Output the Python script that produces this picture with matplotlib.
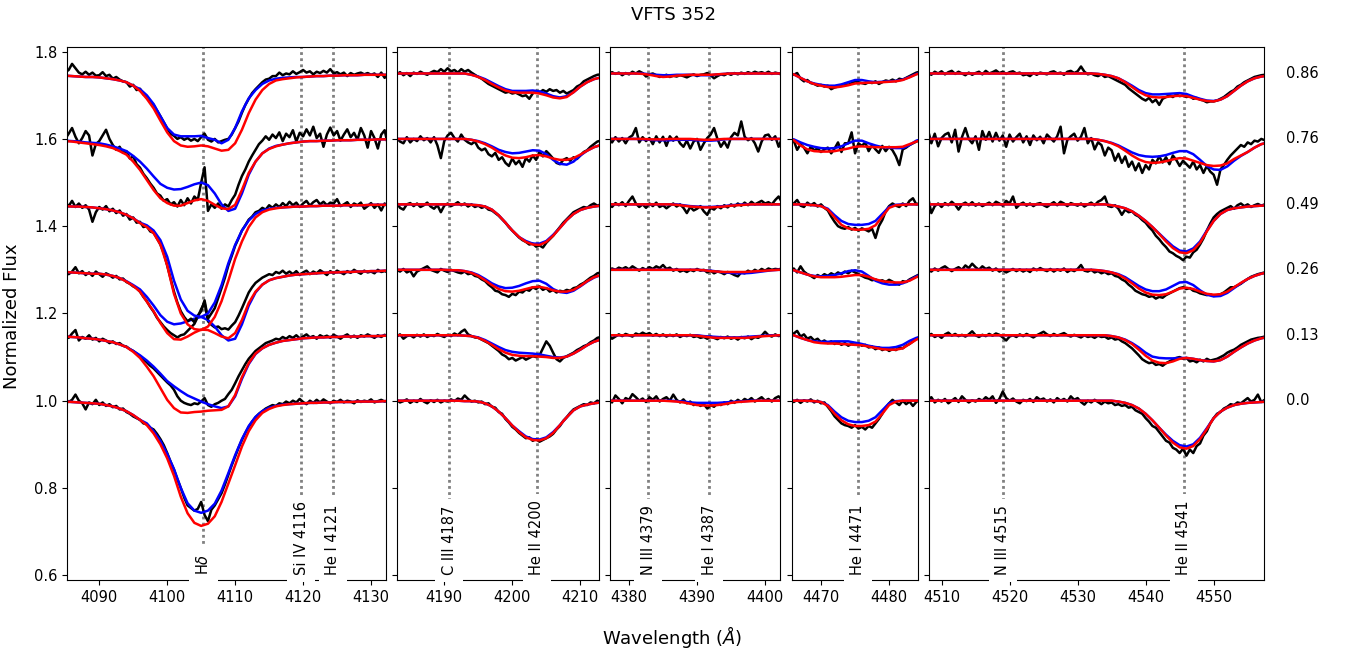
import numpy as np
import matplotlib
matplotlib.use('Agg')
import matplotlib.pyplot as plt
import matplotlib.transforms as mtransforms

# phases (bottom to top) and the vertical shift used for each spectrum
phase_labels = ['0.0', '0.13', '0.26', '0.49', '0.76', '0.86']
phase_shift = [0.0, 0.15, 0.30, 0.45, 0.60, 0.75]

# all flux values below are (normalized flux - 1) * 1000, one row per phase
# ---------------- panel 1 : H delta ----------------
hd_wave = np.arange(4085, 4134, 1.0)
hd_obs_wave = np.arange(4085, 4133.5, 0.5)
hd_red = [
    [-2, -3, -4, -5, -6, -7, -10, -13, -18, -24, -33, -44, -56, -75, -100, -132, -172, -220, -258, -280,
     -287, -282, -265, -232, -190, -148, -105, -70, -45, -28, -19, -13, -10, -8, -7, -6, -5, -5, -4, -4,
     -3, -3, -3, -2, -2, -2, -2, -1, -1],
    [-3, -4, -5, -7, -8, -10, -13, -16, -21, -27, -38, -52, -72, -94, -121, -148, -167, -177, -178, -176,
     -175, -173, -172, -171, -163, -137, -96, -64, -42, -30, -22, -17, -13, -11, -9, -7, -6, -5, -5, -4,
     -4, -3, -3, -3, -2, -2, -2, -1, -1],
    [-5, -6, -7, -8, -9, -9, -11, -14, -19, -27, -37, -50, -73, -95, -122, -145, -159, -160, -153, -144,
     -137, -138, -145, -153, -157, -145, -115, -76, -50, -34, -24, -19, -16, -13, -11, -10, -9, -8, -7, -6,
     -6, -5, -5, -4, -4, -3, -3, -2, -2],
    [-4, -5, -5, -6, -7, -9, -11, -14, -18, -24, -32, -43, -52, -66, -92, -140, -205, -250, -275, -286,
     -288, -280, -258, -222, -175, -125, -85, -52, -30, -18, -12, -9, -7, -6, -5, -5, -4, -4, -3, -3,
     -3, -2, -2, -2, -2, -1, -1, -1, -1],
    [-5, -6, -8, -10, -12, -14, -17, -21, -28, -36, -52, -71, -94, -117, -136, -147, -153, -153, -147, -141,
     -138, -142, -151, -159, -161, -151, -117, -78, -52, -33, -23, -17, -13, -10, -8, -6, -5, -5, -4, -4,
     -3, -3, -3, -2, -2, -2, -1, -1, -1],
    [-5, -6, -7, -8, -8, -9, -11, -13, -16, -20, -28, -40, -58, -80, -108, -135, -155, -165, -168, -167,
     -165, -167, -172, -177, -175, -160, -129, -91, -60, -38, -24, -16, -13, -11, -9, -8, -7, -6, -6, -5,
     -5, -4, -4, -4, -3, -3, -3, -3, -3],
]
hd_blue = [
    [-2, -3, -4, -5, -6, -7, -10, -13, -18, -24, -33, -44, -52, -70, -92, -122, -157, -200, -235, -252,
     -257, -252, -236, -206, -166, -125, -88, -58, -37, -24, -16, -12, -9, -8, -7, -6, -5, -5, -4, -4,
     -3, -3, -3, -2, -2, -2, -2, -1, -1],
    [-3, -4, -5, -7, -8, -10, -13, -16, -21, -27, -36, -46, -58, -72, -88, -105, -117, -128, -138, -145,
     -152, -158, -163, -167, -163, -140, -100, -66, -43, -30, -22, -17, -13, -11, -9, -7, -6, -5, -5, -4,
     -4, -3, -3, -3, -2, -2, -2, -1, -1],
    [-5, -6, -7, -8, -9, -9, -11, -14, -19, -26, -35, -45, -62, -82, -104, -119, -125, -123, -118, -112,
     -108, -115, -130, -150, -162, -158, -125, -82, -52, -34, -24, -19, -16, -13, -11, -10, -9, -8, -7, -6,
     -6, -5, -5, -4, -4, -3, -3, -2, -2],
    [-4, -5, -5, -6, -7, -9, -11, -14, -18, -24, -32, -42, -48, -60, -82, -120, -175, -218, -244, -255,
     -258, -250, -225, -185, -135, -93, -60, -37, -22, -14, -10, -8, -7, -6, -5, -5, -4, -4, -3, -3,
     -3, -2, -2, -2, -2, -1, -1, -1, -1],
    [-4, -5, -6, -8, -9, -10, -13, -17, -22, -28, -39, -52, -68, -86, -103, -112, -116, -115, -110, -104,
     -100, -106, -125, -150, -165, -160, -125, -82, -52, -33, -22, -16, -13, -10, -8, -6, -5, -5, -4, -4,
     -3, -3, -3, -2, -2, -2, -1, -1, -1],
    [-5, -6, -7, -8, -8, -9, -11, -13, -16, -20, -28, -36, -50, -70, -98, -125, -140, -144, -144, -144,
     -143, -148, -152, -160, -152, -125, -87, -57, -38, -24, -16, -12, -10, -9, -8, -8, -7, -6, -6, -5,
     -5, -4, -4, -4, -3, -3, -3, -3, -3],
]
hd_obs = [
    [4, -3, 2, 14, 0, -6, -20, -4, -8, 2, -10, -4, -12, -8, -15, -12, -20, -18, -26, -30,
     -36, -40, -44, -52, -54, -62, -66, -76, -88, -102, -120, -140, -158, -180, -200, -222, -240, -246, -252, -248,
     -232, -262, -276, -250, -240, -226, -212, -192, -170, -148, -128, -108, -90, -74, -60, -48, -38, -30, -24, -18,
     -14, -10, -12, -6, -8, -2, -6, 0, -4, 4, -3, -8, 0, -5, 2, -4, 3, -2, -6, 0,
     -3, 2, -4, 0, -2, -6, 1, -3, 0, -2, 3, -4, -1, 2, -2, 0, -1],
    [2, -6, 4, 12, -12, -4, -8, 0, -10, -6, -14, -8, -12, -18, -14, -20, -18, -24, -26, -32,
     -36, -42, -48, -55, -62, -70, -76, -84, -92, -100, -108, -115, -125, -140, -150, -155, -158, -160, -156, -158,
     -152, -144, -160, -164, -158, -155, -150, -146, -135, -125, -110, -94, -80, -66, -54, -45, -36, -30, -24, -18,
     -15, -12, -8, -10, -4, -8, -2, -6, 0, -7, -3, 2, -5, -2, -8, 0, -4, -1, -6, 1,
     -3, -8, -2, 2, -5, -1, -6, 0, -3, 2, -2, -6, 0, -4, 1, -3, 0],
    [-2, -10, -4, 6, -8, -3, -12, -6, -14, -4, -10, -16, -8, -12, -18, -14, -22, -20, -28, -32,
     -38, -42, -50, -62, -72, -85, -96, -110, -120, -130, -138, -145, -150, -155, -150, -148, -140, -132, -124, -108,
     -90, -75, -118, -126, -132, -130, -136, -134, -137, -128, -120, -105, -88, -70, -52, -40, -30, -24, -18, -14,
     -10, -12, -5, -8, -2, -9, -4, -10, -3, -12, -6, -2, -10, -4, -8, -1, -6, -12, -3, -8,
     -2, -6, -10, -3, -7, 0, -5, -9, -2, -6, -4, -8, 0, -5, -3, -6, -2],
    [5, -4, 8, -6, 2, -8, -2, -12, -40, -18, -6, -12, -4, -16, -10, -20, -14, -26, -22, -35,
     -30, -42, -40, -52, -50, -62, -65, -78, -92, -112, -140, -170, -200, -225, -245, -258, -268, -262, -270, -255,
     -245, -220, -262, -250, -238, -215, -192, -168, -140, -118, -95, -78, -60, -48, -35, -28, -18, -15, -8, -12,
     -2, -8, 0, -6, 3, -4, 6, -2, 4, -6, 2, 8, -3, 5, 10, 0, 6, -2, 4, 2,
     12, -4, 0, 5, -6, 2, -2, 4, -10, -4, 3, -8, 0, -14, 2, -5, 0],
    [0, 12, 25, 5, -10, 2, 18, 8, -38, -12, -5, 8, 21, 0, -14, -25, -18, -32, -28, -45,
     -40, -58, -66, -80, -90, -102, -112, -125, -130, -142, -138, -150, -145, -155, -140, -152, -136, -148, -132, -140,
     -100, -65, -165, -150, -158, -148, -160, -150, -155, -140, -128, -105, -85, -70, -52, -38, -25, -12, -4, 6,
     -2, 10, 2, 15, -5, 12, 4, 20, -6, 14, 6, 22, 8, 28, 2, 12, -18, 10, 26, 8,
     18, -4, 10, 22, 4, 14, -2, 25, 8, -20, 18, 2, -22, 10, 20, -15, 5],
    [3, 8, 22, 12, 2, -2, 4, -3, 2, -5, -4, 3, -6, -3, -12, -8, -14, -18, -20, -30,
     -26, -38, -35, -48, -52, -64, -72, -85, -98, -112, -126, -138, -143, -150, -146, -152, -148, -154, -150, -155,
     -146, -138, -152, -156, -150, -158, -155, -152, -150, -140, -125, -110, -90, -72, -58, -45, -36, -28, -20, -14,
     -12, -6, -6, 2, -4, 0, -2, 5, -1, 3, 8, 2, 5, -2, 4, 1, 6, 2, 10, 0,
     3, -2, 2, -6, 1, -3, 0, 2, -2, 1, -3, 0, -8, 2, -10, 0, -3],
]

# ---------------- panel 2 : He II 4200 ----------------
he2_wave = np.arange(4183, 4214, 1.0)
he2_obs_wave = np.arange(4183, 4213.5, 0.5)
he2_red = [
    [0, 0, 0, 0, 0, 0, 0, 0, 0, 0, -1, -1, -2, -6, -13, -25, -40, -57, -72, -84,
     -90, -91, -86, -74, -56, -38, -22, -13, -9, -6, -4],
    [0, 0, 0, 0, 0, 0, 0, 0, 0, 0, -1, -2, -6, -13, -22, -32, -40, -45, -47, -48,
     -48, -49, -50, -52, -52, -49, -42, -33, -23, -15, -10],
    [0, 0, 0, 0, 0, 0, 0, 0, -1, -1, -3, -7, -14, -24, -35, -44, -49, -50, -48, -44,
     -40, -39, -42, -47, -50, -50, -46, -37, -26, -17, -12],
    [0, 0, 0, 0, 0, 0, 0, 0, 0, 0, 0, -1, -2, -5, -12, -25, -42, -60, -75, -86,
     -92, -93, -86, -72, -54, -36, -22, -13, -8, -5, -3],
    [0, 0, 0, 0, 0, 0, 0, 0, 0, 0, 0, -2, -6, -12, -20, -30, -38, -43, -44, -42,
     -38, -37, -40, -45, -48, -48, -44, -36, -27, -19, -14],
    [0, 0, 0, 0, 0, 0, 0, 0, 0, 0, 0, -3, -8, -15, -24, -32, -39, -43, -44, -44,
     -44, -46, -50, -55, -57, -54, -43, -30, -20, -13, -9],
]
he2_blue = [
    [0, 0, 0, 0, 0, 0, 0, 0, 0, 0, -1, -1, -2, -6, -13, -25, -40, -57, -70, -82,
     -88, -89, -84, -72, -56, -38, -22, -13, -9, -6, -4],
    [0, 0, 0, 0, 0, 0, 0, 0, 0, 0, -1, -2, -5, -11, -19, -27, -34, -38, -40, -41,
     -42, -44, -47, -50, -51, -49, -42, -33, -23, -15, -10],
    [0, 0, 0, 0, 0, 0, 0, 0, -1, -1, -3, -6, -12, -21, -31, -38, -42, -41, -37, -31,
     -26, -25, -32, -44, -51, -53, -48, -38, -27, -18, -12],
    [0, 0, 0, 0, 0, 0, 0, 0, 0, 0, 0, -1, -2, -5, -12, -25, -42, -60, -75, -84,
     -90, -90, -84, -70, -54, -36, -22, -13, -8, -5, -3],
    [0, 0, 0, 0, 0, 0, 0, 0, 0, 0, 0, -2, -5, -10, -17, -25, -30, -33, -32, -29,
     -26, -27, -35, -48, -57, -59, -52, -38, -27, -19, -14],
    [0, 0, 0, 0, 0, 0, 0, 0, 0, 0, 0, -3, -7, -13, -21, -29, -36, -40, -40, -40,
     -39, -41, -46, -52, -55, -52, -43, -30, -20, -13, -9],
]
he2_obs = [
    [2, -4, -1, 3, -5, 0, -3, 4, -2, -6, 1, -3, 2, -4, 0, -2, 3, -1, 5, 2,
     12, 4, -2, 0, -4, -2, -8, -6, -14, -16, -26, -30, -42, -50, -60, -66, -74, -80, -86, -84,
     -92, -88, -94, -90, -86, -82, -76, -66, -58, -46, -38, -28, -20, -16, -12, -8, -10, -4, -6, 0, -3],
    [-3, 2, -8, -2, 0, -5, 1, -3, 2, -4, 0, -2, 3, -1, -4, 1, -2, 4, 0, 8,
     13, 2, -2, -5, -6, -10, -14, -18, -24, -30, -36, -44, -48, -55, -52, -58, -54, -50, -56, -52,
     -48, -50, -46, -30, -14, -24, -40, -55, -60, -52, -48, -44, -40, -34, -30, -25, -22, -16, -12, -6, -4],
    [0, -4, 2, -6, -2, -15, -4, 0, 4, 8, 0, -3, -6, 2, -2, -5, 0, -3, -6, -8,
     -4, -10, -8, -14, -16, -22, -26, -34, -40, -48, -50, -56, -58, -62, -55, -58, -50, -52, -45, -48,
     -40, -44, -38, -46, -42, -50, -46, -52, -48, -50, -46, -48, -42, -40, -34, -30, -24, -18, -14, -8, -6],
    [4, -8, -12, 0, 3, -4, 2, -6, -2, 4, -5, -10, -2, -18, -3, 2, -4, 0, 5, -2,
     2, -5, 0, -6, -3, -8, -5, -12, -14, -20, -26, -34, -42, -52, -60, -68, -76, -82, -86, -92,
     -90, -97, -94, -99, -88, -80, -72, -62, -52, -42, -34, -26, -18, -14, -10, -6, -8, -2, 2, -3, 0],
    [2, -6, -10, 4, -8, 0, -5, 6, -3, 2, -8, 4, -15, -44, -5, 8, 14, 2, -6, 10,
     -2, -8, -12, -6, -20, -26, -22, -35, -40, -32, -48, -42, -55, -62, -45, -58, -50, -64, -44, -52,
     -38, -48, -30, -40, -28, -36, -45, -55, -58, -48, -44, -50, -42, -46, -38, -30, -26, -18, -12, -6, -4],
    [-2, 3, -4, 1, -6, 2, -1, 4, 0, -3, 2, 6, 3, 10, 4, 12, 5, 8, 2, 10,
     4, 8, 2, -3, -8, -12, -18, -24, -28, -32, -36, -40, -44, -42, -46, -44, -48, -52, -50, -58,
     -46, -40, -44, -38, -42, -36, -40, -38, -44, -40, -46, -42, -38, -30, -26, -18, -14, -10, -6, -3, -2],
]

# ---------------- panel 3 : N III 4379 / He I 4387 ----------------
n3_wave = np.arange(4377, 4404, 1.0)
n3_obs_wave = np.arange(4377, 4403.5, 0.5)
n3_red = [
    [0, 0, 0, 0, 0, 0, 0, 0, 0, -1, -2, -4, -7, -10, -11, -11, -10, -8, -5, -3, -2, -1, 0, 0, 0, 0, 0],
    [0, 0, 0, 0, 0, 0, 0, 0, 0, 0, 0, 0, 0, -1, -3, -5, -6, -6, -6, -6, -6, -5, -3, -2, -1, 0, 0],
    [0, 0, 0, 0, 0, 0, 0, 0, 0, 0, 0, 0, 0, 0, -1, -3, -4, -5, -5, -5, -5, -4, -3, -2, -1, 0, 0],
    [0, 0, 0, 0, 0, 0, 0, 0, 0, 0, -1, -3, -5, -6, -7, -7, -6, -5, -3, -2, -1, 0, 0, 0, 0, 0, 0],
    [0, 0, 0, 0, 0, 0, -1, -1, -1, 0, 0, 0, 0, -1, -2, -2, -1, 0, 0, 0, 0, 0, 0, 0, 0, 0, 0],
    [0, 0, 0, 0, 0, -1, -3, -6, -8, -7, -5, -4, -3, -3, -3, -3, -2, -1, 0, 0, 0, 0, 0, 0, 0, 0, 0],
]
n3_blue = [
    [0, 0, 0, 0, 0, 0, 0, 0, 0, 0, -1, -2, -4, -5, -5, -5, -5, -4, -3, -2, -1, 0, 0, 0, 0, 0, 0],
    [0, 0, 0, 0, 0, 0, 0, 0, 0, 0, 0, 0, 0, 0, -2, -3, -4, -5, -5, -5, -4, -3, -2, -1, 0, 0, 0],
    [0, 0, 0, 0, 0, 0, 0, 0, 0, 0, 0, 0, 0, 0, -1, -2, -4, -6, -7, -8, -8, -7, -5, -3, -1, 0, 0],
    [0, 0, 0, 0, 0, 0, 0, 0, 0, 0, 0, -2, -4, -5, -6, -6, -5, -4, -2, -1, 0, 0, 0, 0, 0, 0, 0],
    [0, 0, 0, 0, 0, -1, -2, -3, -3, -3, -2, -2, -2, -3, -4, -4, -3, -1, 0, 0, 0, 0, 0, 0, 0, 0, 0],
    [0, 0, 0, 0, 0, 0, -2, -3, -4, -4, -3, -3, -3, -4, -4, -4, -2, -1, 0, 0, 0, 0, 0, 0, 0, 0, 0],
]
n3_obs = [
    [2, -4, 12, 4, -6, 6, 2, 15, 8, 0, 5, -3, 8, 2, 10, -2, 4, 8, 0, 14,
     2, -4, 3, -6, -2, -10, -6, -12, -8, -18, -10, -14, -6, -10, -4, -8, 0, -5, 2, -3,
     4, 0, 6, -2, 3, 8, 0, 4, -2, 6, 10, 2, 5],
    [0, -8, -3, 2, -2, 3, 0, -3, 4, 1, 6, 2, 5, -1, 3, -2, 2, -3, 1, -2,
     2, -4, 0, -2, 1, -4, -2, -6, -4, -8, -3, -6, -9, -4, -7, -3, -8, -5, -10, -4,
     -7, -3, -9, -4, -6, -1, 8, 0, -3, 2, -2, 1, 0],
    [-2, 3, 0, 5, 2, 6, 1, 8, 3, -2, 4, 0, 6, 2, 8, 4, 11, 2, 5, -2,
     2, -4, -1, -5, 0, -3, 2, -2, 0, -6, -2, -8, -4, -6, -10, -5, -8, -12, -15, -6,
     -8, -2, -6, 0, -4, 2, -2, 3, 0, 2, 1, 3, 2],
    [2, -6, 3, -2, 5, -4, 8, 18, 2, -6, 0, -8, 2, -4, 4, -6, -2, -9, -3, 2,
     -5, 0, -8, -20, -6, -14, -10, -4, -16, -24, -8, -12, -4, -9, -2, -7, 0, -5, 2, -3,
     4, -2, 6, 0, 4, 8, 2, 5, 0, 10, 18, 4, 2],
    [0, -8, 4, -6, 2, -10, 3, 8, 25, -8, 4, -5, 2, -12, 6, -8, 5, -16, 6, -4,
     5, -10, -18, -4, -22, -6, 0, -25, -10, 2, 10, 25, 0, -18, -6, -20, 4, 14, 8, 40,
     5, -3, 2, -10, -29, -6, 8, 10, -2, 6, -18, 2, 0],
    [-2, 3, -1, 2, -4, 1, -2, 4, 0, 5, 1, -7, -2, 0, -4, -8, -6, -3, -8, -5,
     -7, -4, -6, -9, -5, -2, -6, -3, -2, 1, -4, -11, -6, -2, -4, 0, -3, 1, -2, 2,
     -1, 3, 0, 4, 1, 3, 0, 4, -1, 2, 0, -3, 1],
]

# ---------------- panel 4 : He I 4471 ----------------
he1_wave = np.arange(4465, 4486, 1.0)
he1_obs_wave = np.arange(4465, 4485.5, 0.5)
he1_red = [
    [0, 0, 0, 0, -1, -3, -12, -30, -45, -54, -58, -58, -56, -48, -30, -10, -2, 0, 0, 0, 0],
    [0, 0, -6, -11, -16, -18, -19, -19, -20, -21, -22, -23, -26, -29, -32, -33, -33, -30, -20, -10, -4],
    [0, -1, -6, -11, -15, -17, -17, -17, -16, -14, -12, -12, -16, -22, -26, -28, -29, -29, -25, -17, -10],
    [0, 0, 0, -1, -2, -4, -12, -30, -47, -55, -58, -58, -56, -48, -28, -8, -2, -1, 0, 0, 0],
    [0, -3, -15, -24, -28, -29, -29, -28, -25, -22, -18, -17, -18, -19, -19, -19, -19, -18, -12, -6, -2],
    [0, -2, -10, -18, -24, -28, -31, -32, -30, -27, -23, -22, -21, -21, -20, -19, -18, -15, -9, -2, 2],
]
he1_blue = [
    [0, 0, 0, 0, -1, -3, -10, -25, -38, -46, -49, -49, -46, -38, -22, -6, -1, 0, 0, 0, 0],
    [0, 0, -6, -11, -14, -15, -15, -14, -14, -14, -17, -20, -24, -27, -29, -29, -27, -22, -13, -6, -2],
    [0, -1, -6, -11, -14, -15, -14, -12, -8, -3, -1, -4, -14, -25, -31, -34, -34, -31, -24, -15, -8],
    [0, 0, 0, -1, -2, -4, -10, -25, -38, -45, -47, -47, -45, -38, -22, -6, -1, 0, 0, 0, 0],
    [0, -1, -8, -14, -18, -21, -22, -21, -17, -10, -4, -4, -10, -15, -19, -20, -21, -21, -14, -4, 0],
    [0, -2, -10, -18, -23, -26, -28, -28, -25, -20, -15, -15, -18, -20, -19, -18, -17, -14, -8, -1, 3],
]
he1_obs = [
    [0, 4, -3, 2, -5, 1, -2, 3, -4, 0, -6, -4, -14, -24, -36, -44, -52, -56, -58, -62,
     -56, -64, -60, -66, -58, -62, -52, -42, -30, -16, -6, 2, -4, -10, 0, -8, -2, -12, -3, 2, -2],
    [2, -2, 4, 10, -3, 2, -8, -4, -12, -8, -16, -12, -18, -14, -20, -16, -22, -18, -24, -20,
     -22, -18, -24, -22, -28, -26, -32, -28, -34, -30, -36, -32, -34, -28, -30, -24, -20, -14, -8, -4, -2],
    [2, -2, 3, -6, 8, -4, -10, -14, -19, -12, -16, -10, -14, -8, -12, -6, -10, -4, -8, -2,
     -6, -10, -14, -18, -20, -24, -22, -26, -24, -28, -23, -27, -32, -34, -26, -28, -22, -18, -14, -10, -8],
    [0, -4, 2, 10, -3, -6, 4, -2, 3, -5, 0, -8, -14, -28, -40, -50, -54, -56, -52, -58,
     -54, -60, -55, -58, -62, -56, -77, -50, -36, -16, -4, 2, -3, -6, 2, -4, 8, 14, 0, 3, 1],
    [2, -6, -4, -25, -12, -20, -33, -18, -26, -22, -30, -24, -20, -33, -22, -8, -30, -10, -10, 15,
     -33, -10, -16, -8, -28, -14, -24, -32, -16, -28, -18, -26, -40, -60, -24, -20, -14, -10, -6, -2, 0],
    [0, 2, -3, 1, -12, -18, -15, -22, -24, -28, -26, -30, -28, -36, -32, -30, -28, -24, -26, -22,
     -18, -20, -22, -24, -20, -22, -18, -24, -20, -16, -18, -14, -18, -12, -14, -10, -6, -2, 2, 4, 3],
]

# ---------------- panel 5 : N III 4515 / He II 4541 ----------------
he2b_wave = np.arange(4508, 4559, 1.0)
he2b_obs_wave = np.arange(4508, 4558.5, 0.5)
he2b_red = [
    [0] * 28 + [-2, -5, -10, -18, -30, -45, -62, -80, -96, -107, -110, -104,
                -88, -65, -40, -25, -16, -10, -7, -5, -4, -3, -2],
    [0] * 27 + [-2, -5, -11, -20, -33, -47, -58, -63, -64, -60, -54, -52, -54,
                -57, -59, -60, -57, -49, -38, -28, -19, -12, -7, -4],
    [0] * 25 + [-1, -3, -6, -11, -20, -31, -43, -52, -57, -58, -56, -50, -43, -41, -44,
                -50, -55, -57, -56, -50, -40, -30, -21, -14, -9, -6],
    [0] * 27 + [-2, -5, -9, -16, -26, -38, -52, -68, -85, -100, -110, -112, -105,
                -88, -62, -38, -22, -13, -9, -7, -5, -4, -3, -2],
    [0] * 25 + [-2, -5, -10, -17, -27, -38, -47, -53, -55, -54, -51, -47, -44, -45, -50,
                -55, -60, -62, -61, -56, -46, -38, -30, -20, -12, -8],
    [0] * 25 + [-1, -3, -6, -11, -20, -31, -42, -50, -54, -55, -54, -52, -51, -52, -56,
                -60, -63, -64, -60, -52, -40, -28, -18, -11, -7, -5],
]
he2b_blue = [
    [0] * 28 + [-2, -5, -10, -18, -30, -45, -62, -78, -92, -102, -105, -100,
                -85, -63, -40, -25, -16, -10, -7, -5, -4, -3, -2],
    [0] * 27 + [-2, -5, -10, -18, -28, -40, -49, -52, -53, -53, -52, -52, -54,
                -57, -59, -60, -57, -49, -38, -28, -19, -12, -7, -4],
    [0] * 25 + [-1, -3, -6, -10, -17, -27, -37, -45, -49, -49, -45, -37, -29, -28, -35,
                -47, -57, -61, -60, -53, -42, -31, -21, -14, -9, -6],
    [0] * 27 + [-2, -5, -9, -16, -26, -38, -52, -67, -82, -96, -106, -108, -101,
                -85, -60, -38, -22, -13, -9, -7, -5, -4, -3, -2],
    [0] * 25 + [-2, -5, -9, -15, -23, -31, -37, -40, -41, -40, -37, -32, -28, -28, -35,
                -48, -62, -70, -71, -63, -50, -39, -30, -20, -12, -8],
    [0] * 25 + [-1, -3, -6, -11, -19, -28, -38, -45, -48, -48, -47, -46, -45, -47, -53,
                -58, -62, -63, -60, -52, -40, -28, -18, -11, -7, -5],
]
he2b_obs = [
    [2, 8, -4, 2, -2, 4, -6, 0, 6, -3, 10, 2, -4, 1, -2, 4, 0, 8, 2, 10,
     -5, 4, 21, 6, 0, 5, -2, -6, 2, -1, 4, -3, 8, 2, 5, -2, 3, -4, 6, 0,
     4, -2, 10, 2, 6, -3, -9, 0, -4, 2, -3, -8, -2, -6, -4, -10, -8, -12, -10, -16,
     -14, -22, -26, -30, -40, -48, -58, -62, -72, -82, -92, -96, -108, -112, -120, -110, -126, -112, -120, -104,
     -98, -80, -70, -52, -40, -30, -26, -18, -14, -8, -10, -4, -6, 0, 6, -2, 2, 14, -3, 2, -1],
    [-2, 3, -4, 0, -6, 2, 6, -1, 3, -2, 1, -3, 2, 9, 0, -4, 1, -2, 3, -1,
     4, 1, -5, -12, -3, 0, -4, 2, -2, 3, -1, -5, 0, 4, 8, 2, -2, 3, -1, 2,
     5, 0, -3, 1, -2, -5, 0, -4, -2, -6, -1, -4, -3, -8, -5, -10, -8, -14, -18, -24,
     -30, -38, -46, -55, -60, -64, -62, -68, -66, -70, -64, -60, -56, -52, -50, -54, -52, -60, -58, -62,
     -56, -60, -54, -58, -56, -54, -50, -46, -40, -36, -33, -28, -22, -18, -14, -10, -8, -6, -5, -3, -2],
    [0, -4, 3, -2, 4, 8, 2, -3, 2, 6, 0, 10, 4, 14, 6, 0, 8, 2, 5, -2,
     3, -4, 0, -6, -2, 2, -3, 1, -4, 0, -5, 3, -1, 4, 0, -3, 2, -4, 1, -2,
     3, -5, 0, -3, 2, 11, -2, -4, 0, -6, -3, -8, -5, -10, -8, -14, -16, -22, -26, -34,
     -40, -48, -52, -56, -58, -62, -60, -66, -62, -64, -58, -54, -50, -46, -42, -40, -44, -42, -48, -50,
     -54, -56, -58, -56, -60, -58, -56, -52, -46, -40, -40, -36, -32, -26, -21, -16, -13, -10, -8, -6, -5],
    [18, -20, -4, 2, -6, 3, -2, 6, -1, -12, 0, 4, -2, 5, -3, 2, -4, 0, 4, -2,
     6, 2, -3, 8, 2, 18, -8, 0, 4, -3, 2, -4, 1, 3, -2, -6, 0, 5, -2, 6,
     2, -4, 3, 0, -3, 2, -5, 0, 4, -2, 6, 10, 18, -4, -6, -2, -10, -24, -12, -18,
     -16, -24, -28, -36, -42, -52, -60, -72, -80, -90, -98, -108, -112, -118, -122, -128, -120, -122, -110, -104,
     -92, -78, -60, -44, -30, -22, -16, -12, -8, -4, -10, -2, 2, -4, 0, -6, -2, 1, -3, 0, -2],
    [21, -10, 12, -17, 2, 10, 14, -8, 21, -29, 4, 25, 0, -10, 6, -25, 18, -2, 16, -6,
     14, -4, 8, -18, 10, -6, 4, 12, -8, 6, -14, 8, -3, 5, -10, 10, 2, -6, 6, 28,
     -33, -2, 6, 12, -4, 5, 25, -10, 2, -24, -8, -14, -38, -20, -26, -50, -34, -55, -40, -64,
     -52, -72, -56, -78, -60, -70, -48, -56, -40, -54, -42, -58, -38, -48, -62, -50, -58, -66, -52, -70,
     -60, -78, -62, -75, -82, -105, -70, -60, -48, -38, -30, -22, -14, -18, -8, -12, -4, -6, 0, -3, 2],
    [2, -3, 4, 0, 5, -2, 3, 6, -1, 4, 0, -4, 2, -3, 1, 4, -2, 6, 0, 3,
     7, 1, 4, -1, 3, 5, 0, 2, -4, -2, -6, 1, -3, 2, 0, -2, 3, 5, 0, 2,
     -3, 4, 6, 1, 5, 16, 4, -2, 0, -4, -6, -2, -8, -6, -10, -14, -18, -22, -26, -34,
     -40, -46, -52, -58, -62, -56, -66, -60, -72, -58, -54, -50, -54, -48, -52, -50, -54, -52, -58, -56,
     -60, -62, -66, -64, -64, -62, -58, -54, -48, -42, -38, -30, -26, -20, -16, -12, -8, -6, -4, -3, -2],
]

# line identifications (observed positions) per panel
line_pos = [[4105.3, 4119.7, 4124.4], [4190.7, 4203.6], [4382.8, 4391.8], [4475.4], [4519.0, 4545.6]]
line_names = [[r'H$\delta$', 'Si IV 4116', 'He I 4121'], ['C III 4187', 'He II 4200'],
              ['N III 4379', 'He I 4387'], ['He I 4471'], ['N III 4515', 'He II 4541']]

panels = [
    (hd_wave, hd_obs_wave, hd_obs, hd_blue, hd_red, (4085.3, 4132.2), [4090, 4100, 4110, 4120, 4130]),
    (he2_wave, he2_obs_wave, he2_obs, he2_blue, he2_red, (4183.1, 4212.7), [4190, 4200, 4210]),
    (n3_wave, n3_obs_wave, n3_obs, n3_blue, n3_red, (4377.2, 4402.2), [4380, 4390, 4400]),
    (he1_wave, he1_obs_wave, he1_obs, he1_blue, he1_red, (4465.7, 4484.2), [4470, 4480]),
    (he2b_wave, he2b_obs_wave, he2b_obs, he2b_blue, he2b_red, (4508.2, 4557.4), [4510, 4520, 4530, 4540, 4550]),
]

W, H = 1347, 652
ax_px = [(67.3, 386.0), (397.3, 598.7), (610.0, 780.0), (791.7, 917.7), (929.3, 1264.0)]
bottom_px, top_px = 580.0, 47.3

fig = plt.figure(figsize=(W / 100, H / 100), dpi=100)
axes = []
for i, (wave, owave, obs, blue, red, xl, xt) in enumerate(panels):
    x0, x1 = ax_px[i]
    ax = fig.add_axes([x0 / W, 1 - bottom_px / H, (x1 - x0) / W, (bottom_px - top_px) / H])
    for xp in line_pos[i]:
        ax.axvline(xp, color='grey', ls=(0, (1, 1.2)), lw=2, zorder=1)
    for k in range(len(phase_shift)):
        off = 1.0 + phase_shift[k]
        ax.plot(owave, off + np.array(obs[k]) / 1000.0, color='k', lw=1.8)
        ax.plot(wave, off + np.array(blue[k]) / 1000.0, color='b', lw=1.8)
        ax.plot(wave, off + np.array(red[k]) / 1000.0, color='r', lw=1.8)
    for xp, name in zip(line_pos[i], line_names[i]):
        ax.text(xp, 0.6, name, rotation=90, ha='center', va='bottom', fontsize=10.5, zorder=5,
                bbox=dict(boxstyle='square,pad=0.45', fc='white', ec='none'))
    ax.set_xlim(*xl)
    ax.set_ylim(0.589, 1.81)
    ax.set_xticks(xt)
    ax.set_yticks([0.6, 0.8, 1.0, 1.2, 1.4, 1.6, 1.8])
    ax.tick_params(labelsize=10.5)
    if i > 0:
        ax.tick_params(labelleft=False)
    axes.append(ax)

# phase labels on the right
ax5 = axes[-1]
trans = mtransforms.blended_transform_factory(ax5.transAxes, ax5.transData)
for k in range(len(phase_shift)):
    ax5.text(1.066, 1.0 + phase_shift[k], phase_labels[k], transform=trans,
             ha='left', va='center', fontsize=10.5)

fig.text(0.5, 1 - 14.5 / H, 'VFTS 352', ha='center', va='center', fontsize=13)
fig.text(0.499, 1 - 637 / H, r'Wavelength ($\AA$)', ha='center', va='center', fontsize=13)
fig.text(12 / W, 1 - 316 / H, 'Normalized Flux', ha='center', va='center', rotation=90, fontsize=13)

fig.savefig('out.png', dpi=100)
